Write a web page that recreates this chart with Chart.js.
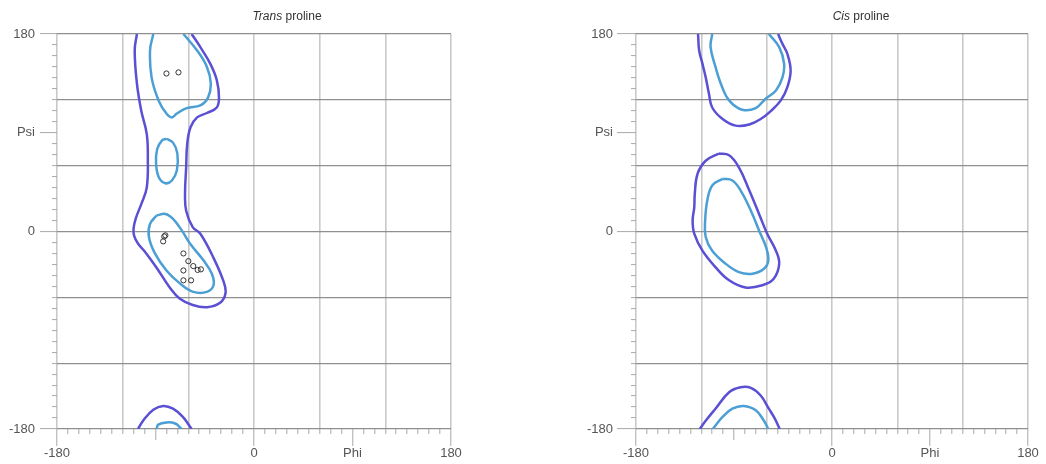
<!DOCTYPE html>
<html lang="en">
<head>
  <meta charset="UTF-8" />
  <title>Proline Ramachandran plots</title>
  <script src="https://cdn.jsdelivr.net/npm/chart.js"></script>
  <style>
    body {
      margin: 0;
      background: #fff;
      width: 1046px;
      height: 464px;
      overflow: hidden;
      position: relative;
    }
    .plot {
      position: absolute;
      top: 0;
      width: 574px;
      height: 464px;
    }
  </style>
</head>
<body>
<div class="plot" style="left:0"><canvas id="transChart"></canvas></div>
<div class="plot" style="left:574px"><canvas id="cisChart"></canvas></div>

<script>
// axis labels (only these ticks get text)
const xLabels = { '-180': '-180', '0': '0', '90': 'Phi', '180': '180' };
const yLabels = { '-180': '-180', '0': '0', '90': 'Psi', '180': '180' };
const titles = [['Trans', ' proline'], ['Cis', ' proline']];

// [phi, psi] pairs
const transOuter = [[-107,180],[-109,165],[-107,135],[-103,110],[-98,89],[-97,67],[-98,40],[-103,25],[-108,12],[-110,3],[-109.5,-4],[-106,-11],[-100,-18],[-89,-33],[-77,-51],[-68,-61],[-56,-67],[-43,-69],[-31,-65],[-26,-56],[-28,-45],[-37,-24],[-49,-2],[-56,4],[-62,19],[-63,35],[-62,58],[-61,80],[-58,95],[-52,104],[-43,108],[-34,113],[-32,122],[-34,138],[-40,153],[-49,168],[-57,180]];
const transOuterBottom = [[-106,-180],[-101,-172],[-92,-162.5],[-83,-159],[-74,-161.5],[-65,-169],[-57,-180]];
const transInnerTop = [[-92,180],[-95,165],[-93.5,140],[-87,119],[-80,107.5],[-75,104],[-70.5,107.5],[-61.5,112.5],[-49,115],[-42,122],[-39.5,135],[-43,150],[-52,165],[-64.5,180]];
const transInnerMid = [[-80,84.5],[-74,81],[-70,71],[-70.5,55.5],[-75,46.5],[-81,44],[-87,49.5],[-89.5,62],[-88.5,75],[-84,83],[-80,84.5]];
const transInnerLow = [[-89,14.5],[-95,7],[-96,-5],[-90.5,-20],[-80,-35.5],[-67.5,-47.5],[-55.5,-55],[-43,-55],[-37,-49],[-38.5,-38.5],[-46,-26.5],[-58.5,-11],[-66,1],[-74,11.5],[-81,16],[-89,14.5]];
const transInnerBottom = [[-89,-180],[-87.5,-176],[-80,-174],[-72,-175],[-66,-180]];
const transPoints = [[-80,144],[-69,145],[-82,-4.5],[-81,-3.5],[-83,-9],[-64.5,-20],[-60,-27],[-55.5,-31.5],[-51.5,-35],[-48.5,-34.5],[-64.5,-35.5],[-64.5,-44.5],[-57.5,-44.5]];

const cisOuterTop = [[-123,180],[-122,165],[-119,153],[-116,140.5],[-113,125.5],[-110,113],[-100.5,102.5],[-88.5,96.5],[-76,97.5],[-65.5,102.5],[-56,110],[-47,119.5],[-41,131.5],[-38,146.5],[-41,162],[-45.5,171],[-49.5,180]];
const cisInnerTop = [[-110,180],[-111.5,168],[-107,150],[-102,134.5],[-94.5,119.5],[-82.5,111],[-70,112.5],[-61,121],[-51.5,128.5],[-45.5,140.5],[-44,153],[-48.5,168],[-58,180]];
const cisOuterMid = [[-104,71],[-116,64.5],[-123.5,52.5],[-126,34.5],[-126.5,22],[-128,10],[-126.5,-2],[-119,-17.5],[-107,-32.5],[-94.5,-44.5],[-79.5,-51],[-64,-49],[-53.5,-43],[-48.5,-29.5],[-51.5,-17.5],[-59.5,-2],[-67,16],[-76,37.5],[-85.5,58.5],[-94.5,69.5],[-104,71]];
const cisInnerMid = [[-100.5,48],[-110,42],[-114.5,28.5],[-116.5,10],[-116,-5],[-110,-17.5],[-97.5,-29.5],[-85.5,-37],[-73,-38.5],[-62.5,-34],[-58.5,-26.5],[-60.5,-14.5],[-67,1],[-74.5,19],[-84,37.5],[-91.5,46.5],[-100.5,48]];
const cisOuterBottom = [[-121.5,-180],[-116,-172.5],[-107,-161.5],[-94.5,-146.5],[-84,-142],[-74.5,-142.5],[-65.5,-149.5],[-58,-161.5],[-52.5,-170.5],[-48,-180]];
const cisInnerBottom = [[-109.5,-180],[-100.5,-169],[-91.5,-161.5],[-81,-159],[-70,-163],[-62.5,-172.5],[-58.5,-180]];

const OUTER = '#5b4fd3';
const INNER = '#4b9fd4';
const FONT = '"Liberation Sans", Arial, sans-serif';
const GAP = 60;

const xy = arr => arr.map(p => ({ x: p[0], y: p[1] }));

function contour(arr, color) {
  return {
    data: xy(arr),
    showLine: true,
    borderColor: color,
    borderWidth: 2.5,
    pointRadius: 0,
    pointHoverRadius: 0,
    tension: 0.4,
    fill: false,
    order: 2
  };
}

// title with an italic first word
const mixedTitle = {
  id: 'mixedTitle',
  afterDraw(chart, args, opts) {
    const ctx = chart.ctx;
    ctx.save();
    ctx.fillStyle = '#333';
    ctx.textBaseline = 'alphabetic';
    ctx.font = 'italic 12px ' + FONT;
    const w1 = ctx.measureText(opts.text[0]).width;
    ctx.font = '12px ' + FONT;
    const w2 = ctx.measureText(opts.text[1]).width;
    let x = chart.width / 2 - (w1 + w2) / 2;
    ctx.font = 'italic 12px ' + FONT;
    ctx.fillText(opts.text[0], x, 20);
    ctx.font = '12px ' + FONT;
    ctx.fillText(opts.text[1], x + w1, 20);
    ctx.restore();
  }
};

function dashLen(labels, isX, v) {
  if (labels[String(v)] !== undefined) return 0;
  if (isX && v === -90) return 11;
  return 5;
}

function axis(labels, isX, axisSize, tickLen, pad) {
  return {
    type: 'linear',
    position: isX ? 'bottom' : 'left',
    min: -180,
    max: 180,
    border: { display: false },
    afterFit: s => { if (isX) s.height = axisSize; else s.width = axisSize; },
    grid: {
      color: ctx => (ctx.tick && ctx.tick.value % 60 === 0)
        ? (isX ? '#c9c9c9' : '#8f8f8f') : 'rgba(0,0,0,0)',
      lineWidth: isX ? 1.6 : 1.2,
      tickColor: '#a8a8a8',
      tickWidth: 1,
      tickLength: tickLen,
      tickBorderDash: ctx => {
        const d = dashLen(labels, isX, ctx.tick ? ctx.tick.value : 0);
        return d ? [d, GAP] : [];
      },
      // left-axis ticks are stroked from the outer end, so shift the dash to the axis side
      tickBorderDashOffset: ctx => {
        const d = dashLen(labels, isX, ctx.tick ? ctx.tick.value : 0);
        if (!d || isX) return 0;
        return d + GAP - (tickLen - d);
      }
    },
    ticks: {
      stepSize: 10,
      autoSkip: false,
      maxRotation: 0,
      padding: pad,
      color: '#555',
      font: { family: FONT, size: 13 },
      callback: v => labels[String(v)] !== undefined ? labels[String(v)] : ''
    }
  };
}

function makeChart(id, title, datasets, yWidth, rightPad, yTick, yPad) {
  return new Chart(document.getElementById(id), {
    type: 'scatter',
    data: { datasets: datasets },
    plugins: [mixedTitle],
    options: {
      responsive: true,
      maintainAspectRatio: false,
      animation: false,
      events: [],
      layout: { padding: { top: 34, right: rightPad, bottom: 0, left: 0 } },
      plugins: {
        legend: { display: false },
        tooltip: { enabled: false },
        mixedTitle: { text: title }
      },
      scales: {
        x: axis(xLabels, true, 35, 17, 0),
        y: axis(yLabels, false, yWidth, yTick, yPad)
      }
    }
  });
}

const pointSet = {
  data: xy(transPoints),
  pointRadius: 2.6,
  pointBorderWidth: 1,
  pointBorderColor: '#333',
  pointBackgroundColor: 'rgba(255,255,255,0)',
  order: 1
};

makeChart('transChart', titles[0], [
  pointSet,
  contour(transOuter, OUTER),
  contour(transOuterBottom, OUTER),
  contour(transInnerTop, INNER),
  contour(transInnerMid, INNER),
  contour(transInnerLow, INNER),
  contour(transInnerBottom, INNER)
], 57, 123, 17, 5);

makeChart('cisChart', titles[1], [
  contour(cisOuterTop, OUTER),
  contour(cisOuterMid, OUTER),
  contour(cisOuterBottom, OUTER),
  contour(cisInnerTop, INNER),
  contour(cisInnerMid, INNER),
  contour(cisInnerBottom, INNER)
], 62, 120, 19, 4);
</script>
</body>
</html>
